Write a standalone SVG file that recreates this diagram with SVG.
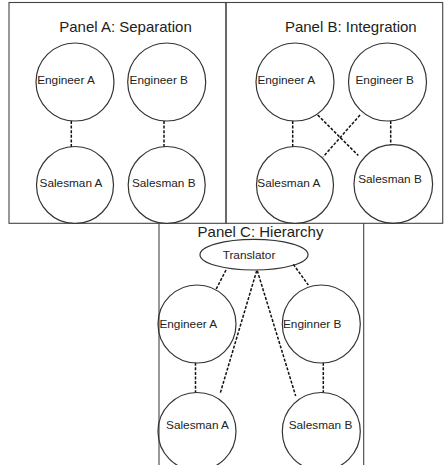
<svg xmlns="http://www.w3.org/2000/svg" width="446" height="465" viewBox="0 0 446 465">
<style>
.frame{fill:none;stroke:#444;stroke-width:1.1}
.node{fill:none;stroke:#333;stroke-width:1.2}
.title{font-family:"Liberation Sans",Arial,sans-serif;font-size:15px;fill:#222;text-anchor:middle}
.lbl{font-family:"Liberation Sans",Arial,sans-serif;font-size:11.8px;fill:#222;text-anchor:middle}
.dash{stroke:#111;stroke-width:1.5;stroke-dasharray:3 1.6;fill:none}
</style>
<rect width="446" height="465" fill="#fff"/>
<g id="panels">
<rect class="frame" x="9" y="2.5" width="217" height="220.8"/>
<rect class="frame" x="226" y="2.5" width="216.7" height="220.8"/>
<path class="frame" d="M159,223.3 V470 M363.7,223.3 V470"/>
<text class="title" x="125.5" y="32">Panel A: Separation</text>
<text class="title" x="350.8" y="32">Panel B: Integration</text>
<text class="title" x="260.5" y="237">Panel C: Hierarchy</text>
</g>
<g id="connectors">
<line class="dash" x1="71.3" y1="121" x2="71.3" y2="147"/>
<line class="dash" x1="164" y1="121" x2="164" y2="147"/>
<line class="dash" x1="292.7" y1="121" x2="292.7" y2="147"/>
<line class="dash" x1="390.7" y1="121" x2="390.7" y2="145"/>
<line class="dash" x1="317.7" y1="115" x2="358.3" y2="155.5"/>
<line class="dash" x1="360" y1="115" x2="323.3" y2="156.7"/>
<line class="dash" x1="195.5" y1="362.7" x2="195.5" y2="392.7"/>
<line class="dash" x1="323.3" y1="362.7" x2="323.3" y2="392.7"/>
<line class="dash" x1="226" y1="270" x2="215.7" y2="290"/>
<line class="dash" x1="293.3" y1="264.3" x2="308.3" y2="285"/>
<line class="dash" x1="256.7" y1="270.7" x2="220" y2="394"/>
<line class="dash" x1="257.3" y1="270.7" x2="295.7" y2="396"/>
</g>
<g id="a-engineer-a"><circle class="node" cx="75" cy="82" r="39"/><text class="lbl" x="66" y="84">Engineer A</text></g>
<g id="a-engineer-b"><circle class="node" cx="166.7" cy="82" r="39"/><text class="lbl" x="158.8" y="84">Engineer B</text></g>
<g id="a-salesman-a"><circle class="node" cx="75" cy="185" r="38.5"/><text class="lbl" x="71" y="187">Salesman A</text></g>
<g id="a-salesman-b"><circle class="node" cx="166.7" cy="185" r="38.5"/><text class="lbl" x="163.7" y="187">Salesman B</text></g>
<g id="b-engineer-a"><circle class="node" cx="295" cy="82" r="39"/><text class="lbl" x="286.3" y="84">Engineer A</text></g>
<g id="b-engineer-b"><circle class="node" cx="387.5" cy="82" r="39"/><text class="lbl" x="384.7" y="84">Engineer B</text></g>
<g id="b-salesman-a"><circle class="node" cx="295" cy="185" r="38.5"/><text class="lbl" x="288.8" y="187">Salesman A</text></g>
<g id="b-salesman-b"><circle class="node" cx="393.3" cy="184" r="39.3"/><text class="lbl" x="390" y="182.7">Salesman B</text></g>
<g id="c-translator"><ellipse class="node" cx="254" cy="254.7" rx="54" ry="15.3"/><text class="lbl" x="249" y="259">Translator</text></g>
<g id="c-engineer-a"><circle class="node" cx="197" cy="324" r="39"/><text class="lbl" x="188.3" y="327.5">Engineer A</text></g>
<g id="c-engineer-b"><circle class="node" cx="321.3" cy="324" r="39"/><text class="lbl" x="312.2" y="327.5">Enginner B</text></g>
<g id="c-salesman-a"><circle class="node" cx="197" cy="431.5" r="39"/><text class="lbl" x="197.5" y="428.5">Salesman A</text></g>
<g id="c-salesman-b"><circle class="node" cx="321.3" cy="431.5" r="39"/><text class="lbl" x="320.5" y="428.5">Salesman B</text></g>
</svg>
